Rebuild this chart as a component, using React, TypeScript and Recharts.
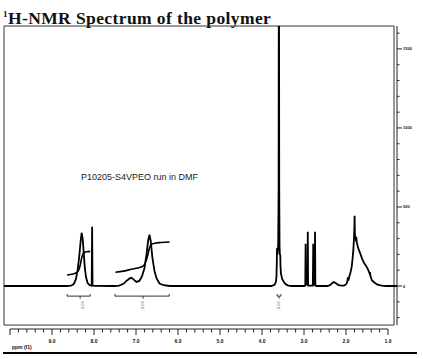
import {
  LineChart,
  Line,
  XAxis,
  YAxis,
  ReferenceLine,
  ReferenceArea,
  ReferenceDot,
} from "recharts";

// [ppm, intensity]
const spectrum: [number, number][] = [
  [10.14, 0], [8.66, 0], [8.55, 3], [8.5, 8], [8.47, 18], [8.43, 45],
  [8.39, 100], [8.35, 190], [8.32, 280], [8.295, 337], [8.27, 300],
  [8.245, 210], [8.22, 120], [8.19, 55], [8.15, 18], [8.1, 6],
  [8.055, 3], [8.045, 375], [8.035, 3], [7.98, 1],
  [7.52, 0], [7.4, 3], [7.3, 14], [7.22, 34], [7.15, 48], [7.11, 52],
  [7.06, 42], [6.99, 26], [6.92, 32], [6.86, 60], [6.8, 110], [6.75, 200],
  [6.71, 290], [6.68, 324], [6.65, 285], [6.61, 180], [6.56, 95],
  [6.51, 48], [6.44, 16], [6.34, 5], [6.2, 0],
  [3.78, 0], [3.7, 8], [3.67, 25], [3.655, 60], [3.648, 150], [3.642, 240],
  [3.632, 200], [3.615, 260], [3.605, 600], [3.598, 2600], [3.59, 600],
  [3.582, 250], [3.575, 200], [3.565, 195], [3.56, 130], [3.55, 80],
  [3.52, 45], [3.48, 25], [3.43, 10], [3.37, 3], [3.3, 0],
  [3.0, 0], [2.97, 3], [2.962, 267], [2.955, 10], [2.917, 10], [2.91, 343],
  [2.903, 3], [2.79, 3], [2.78, 267], [2.772, 10], [2.745, 10],
  [2.738, 343], [2.73, 3], [2.7, 0],
  [2.45, 0], [2.38, 5], [2.33, 18], [2.29, 25], [2.24, 18], [2.18, 6],
  [2.1, 2], [2.05, 3], [2.0, 10], [1.97, 25], [1.955, 55], [1.945, 35],
  [1.92, 60], [1.89, 90], [1.865, 121], [1.845, 170], [1.826, 229],
  [1.81, 300], [1.8, 380], [1.795, 445], [1.79, 340], [1.785, 320],
  [1.77, 300], [1.755, 311], [1.745, 279], [1.72, 250], [1.69, 225],
  [1.667, 210], [1.62, 175], [1.57, 145], [1.53, 130], [1.507, 121],
  [1.47, 100], [1.44, 80], [1.43, 88], [1.415, 60], [1.38, 35], [1.31, 19],
  [1.25, 8], [1.15, 2], [1.05, 0], [0.786, 0],
];

const integralA: [number, number][] = [
  [8.64, 70], [8.5, 76], [8.42, 84], [8.37, 98], [8.33, 130], [8.3, 170],
  [8.27, 198], [8.23, 212], [8.17, 217], [8.09, 219],
];

const integralB: [number, number][] = [
  [7.49, 87], [7.3, 94], [7.17, 102], [7.0, 112], [6.85, 123], [6.78, 145],
  [6.72, 195], [6.68, 240], [6.64, 262], [6.55, 271], [6.4, 275], [6.2, 278],
];

// integration brackets: from, to, centre tick, label position, label
const brackets: [number, number, number, number, string][] = [
  [8.64, 8.09, 8.33, 8.26, "2.00"],
  [7.5, 6.21, 6.83, 6.83, "2.09"],
  [3.64, 3.55, 3.595, 3.595, "4.00"],
];

const xMajor = [10, 9, 8, 7, 6, 5, 4, 3, 2, 1];
const xTicks = Array.from({ length: 46 }, (_, i) => +(10 - i * 0.2).toFixed(1));
const yMajor = [0, 500, 1000, 1500];
const yTicks = Array.from({ length: 19 }, (_, i) => -200 + i * 100);

const toPts = (a: [number, number][]) => a.map(([x, y]) => ({ x, y }));

const XTick = ({ x, y, payload }: any) => {
  const v = payload.value;
  const major = xMajor.includes(v);
  return (
    <g>
      <line x1={x} x2={x} y1={y} y2={y + (major ? 6 : 3.5)} stroke="#222" />
      {major && v < 10 && (
        <text x={x} y={y + 14} textAnchor="middle" fontSize={5} fontWeight="bold"
          fontFamily="Liberation Sans, Arial" fill="#111">
          {v.toFixed(1)}
        </text>
      )}
    </g>
  );
};

const YTick = ({ x, y, payload }: any) => {
  const v = payload.value;
  const major = yMajor.includes(v);
  return (
    <g>
      <line x1={x} x2={x + (major ? 5 : 2.5)} y1={y} y2={y} stroke="#222" />
      {major && (
        <text x={x + 6} y={y + 1.5} fontSize={4} fontWeight="bold"
          fontFamily="Liberation Sans, Arial" fill="#111">
          {v}
        </text>
      )}
    </g>
  );
};

const lbl = (text: string) => (p: any) => (
  <text transform={`rotate(-90 ${p.cx} ${p.cy})`} x={p.cx} y={p.cy + 1.3}
    textAnchor="middle" fontSize={4} fontFamily="Liberation Sans, Arial"
    fill="#5260b8">
    {text}
  </text>
);

export default function App() {
  return (
    <div style={{ position: "absolute", left: 0, top: 0, width: 423, height: 359, background: "#fff" }}>
      <div style={{ position: "absolute", left: 3, top: 6, fontFamily: "Liberation Serif, serif",
        fontWeight: "bold", fontSize: 17.5, lineHeight: "17px", letterSpacing: 0.4, color: "#111", whiteSpace: "nowrap" }}>
        <sup style={{ fontSize: 9 }}>1</sup>H-NMR Spectrum of the polymer
      </div>
      <LineChart width={423} height={359} margin={{ top: 26, right: 0, bottom: 10, left: 4 }}>
        <XAxis type="number" dataKey="x" domain={[0.786, 10.143]} reversed allowDataOverflow
          ticks={xTicks} tick={<XTick />} tickSize={0} tickMargin={0} axisLine={false}
          tickLine={false} height={20} interval={0} />
        <YAxis orientation="right" type="number" domain={[-272, 1645]} allowDataOverflow
          ticks={yTicks} tick={<YTick />} tickSize={0} tickMargin={0} axisLine={false}
          tickLine={false} width={26} interval={0} />
        <ReferenceArea x1={10.143} x2={0.857} y1={-247} y2={1645} fill="none"
          stroke="#333" strokeWidth={1} ifOverflow="visible" />
        <ReferenceLine segment={[{ x: 10, y: -272 }, { x: 1, y: -272 }]} stroke="#222" ifOverflow="visible" />
        <ReferenceLine segment={[{ x: 0.786, y: -247 }, { x: 0.786, y: 1645 }]} stroke="#222" ifOverflow="visible" />
        {brackets.map(([a, b, m]) => [
          <ReferenceLine key={`h${a}`} segment={[{ x: a, y: -64 }, { x: b, y: -64 }]} stroke="#333" />,
          <ReferenceLine key={`l${a}`} segment={[{ x: a, y: -64 }, { x: a, y: -51 }]} stroke="#333" />,
          <ReferenceLine key={`r${a}`} segment={[{ x: b, y: -64 }, { x: b, y: -51 }]} stroke="#333" />,
          <ReferenceLine key={`m${a}`} segment={[{ x: m, y: -64 }, { x: m, y: -80 }]} stroke="#333" />,
        ])}
        {brackets.map(([a, , , p, t]) => (
          <ReferenceDot key={`t${a}`} x={p} y={-121} r={0} shape={lbl(t)} ifOverflow="visible" />
        ))}
        <Line data={toPts(spectrum)} dataKey="y" type="linear" stroke="#000" strokeWidth={1.8}
          dot={false} isAnimationActive={false} />
        <Line data={toPts(integralA)} dataKey="y" type="monotone" stroke="#000" strokeWidth={1.6}
          dot={false} isAnimationActive={false} />
        <Line data={toPts(integralB)} dataKey="y" type="monotone" stroke="#000" strokeWidth={1.6}
          dot={false} isAnimationActive={false} />
      </LineChart>
      <div style={{ position: "absolute", left: 81, top: 172, fontFamily: "Liberation Sans, Arial",
        fontSize: 9, lineHeight: "10px", color: "#222", whiteSpace: "nowrap" }}>
        P10205-S4VPEO run in DMF
      </div>
      <div style={{ position: "absolute", left: 12, top: 344, fontFamily: "Liberation Sans, Arial",
        fontSize: 5, fontWeight: "bold", lineHeight: "6px", color: "#111" }}>
        ppm (f1)
      </div>
      <div style={{ position: "absolute", left: 3, top: 352, width: 414, height: 2, background: "#000" }} />
    </div>
  );
}
